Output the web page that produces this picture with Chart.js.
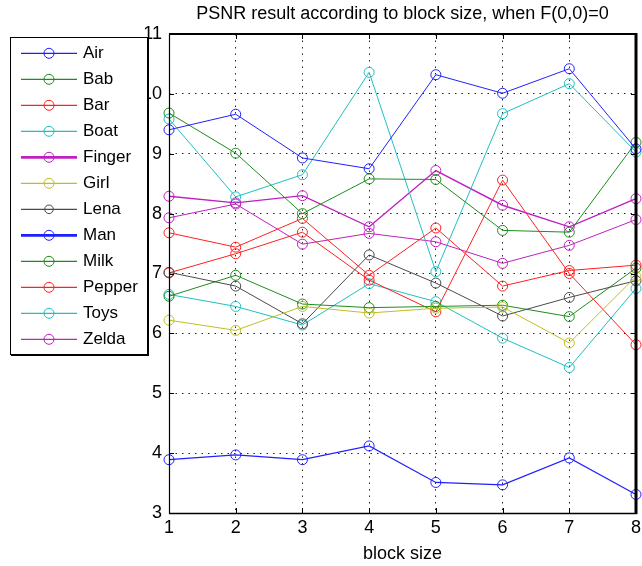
<!DOCTYPE html>
<html><head><meta charset="utf-8">
<script src="https://cdn.jsdelivr.net/npm/chart.js@4.4.0/dist/chart.umd.min.js"></script>
<style>html,body{margin:0;padding:0;background:#fff}canvas{display:block}</style>
</head><body>
<canvas id="c" width="642" height="566"></canvas>
<script>
// ---- data ----
const blockSizes = ['1','2','3','4','5','6','7','8'];
const seriesNames = ['Air','Bab','Bar','Boat','Finger','Girl','Lena','Man','Milk','Pepper','Toys','Zelda'];
const air    = [9.40, 9.66, 8.93, 8.75, 10.32, 10.01, 10.42, 9.08];
const bab    = [9.68, 9.01, 8.00, 8.58, 8.57, 7.72, 7.69, 9.19];
const bar    = [7.68, 7.44, 7.92, 6.97, 7.76, 6.79, 7.05, 7.14];
const boat   = [9.58, 8.28, 8.65, 10.36, 7.03, 9.67, 10.17, 9.03];
const finger = [8.29, 8.18, 8.30, 7.78, 8.72, 8.14, 7.78, 8.25];
const girl   = [6.22, 6.05, 6.45, 6.34, 6.42, 6.44, 5.84, 6.95];
const lena   = [7.02, 6.79, 6.16, 7.31, 6.84, 6.29, 6.60, 6.88];
const man    = [3.89, 3.97, 3.89, 4.12, 3.51, 3.47, 3.92, 3.31];
const milk   = [6.62, 6.97, 6.49, 6.43, 6.45, 6.47, 6.28, 7.09];
const pepper = [7.01, 7.33, 7.69, 6.89, 6.36, 8.56, 7.00, 5.81];
const toys   = [6.65, 6.45, 6.14, 6.83, 6.53, 5.92, 5.43, 6.75];
const zelda  = [7.93, 8.16, 7.49, 7.67, 7.53, 7.17, 7.47, 7.90];
const seriesValues = [air, bab, bar, boat, finger, girl, lena, man, milk, pepper, toys, zelda];
const yMin = 3, yMax = 11, yStep = 1;
const titleText = 'PSNR result according to block size, when F(0,0)=0';
const xTitle = 'block size';

// ---- styles ----
const BLUE='#2020ff', GREEN='#1e8c1e', RED='#ff2020', CYAN='#20bfbf', MAG='#bf20bf', YEL='#bfbf20', GRAY='#4a4a4a';
const seriesColors = [BLUE, GREEN, RED, CYAN, MAG, YEL, GRAY, BLUE, GREEN, RED, CYAN, MAG];
const lineWidths   = [1, 1, 1, 1, 1.4, 1, 1, 1.2, 1, 1, 1, 1];
const legendWidths = [1.3, 1.3, 1.3, 1.3, 2.8, 1.3, 1.3, 2.8, 1.3, 1.3, 1.3, 1.3];
const FONT = "'Liberation Sans', Arial, sans-serif";

const datasets = seriesNames.map((name, i) => ({
  label: name,
  data: seriesValues[i],
  borderColor: seriesColors[i],
  borderWidth: lineWidths[i],
  pointRadius: 5,
  pointHoverRadius: 5,
  pointBorderWidth: 1,
  pointBorderColor: seriesColors[i],
  pointBackgroundColor: 'rgba(0,0,0,0)',
  tension: 0,
  fill: false,
  clip: false
}));

const boxPlugin = {
  id: 'box',
  afterDatasetsDraw(chart) {
    const {ctx, chartArea: a, scales} = chart;
    const xs = scales.x, ys = scales.y;
    ctx.save();
    ctx.setLineDash([]);
    ctx.strokeStyle = '#000';
    ctx.lineWidth = 1;
    ctx.beginPath();
    ys.ticks.forEach((t, i) => {
      const y = Math.round(ys.getPixelForTick(i)) + 0.5;
      ctx.moveTo(a.left, y); ctx.lineTo(a.left + 5, y);
      ctx.moveTo(a.right - 5, y); ctx.lineTo(a.right, y);
    });
    xs.ticks.forEach((t, i) => {
      const x = Math.round(xs.getPixelForTick(i)) + 0.5;
      ctx.moveTo(x, a.bottom); ctx.lineTo(x, a.bottom - 5);
      ctx.moveTo(x, a.top); ctx.lineTo(x, a.top + 5);
    });
    ctx.stroke();
    // box
    ctx.lineWidth = 1.2;
    ctx.beginPath(); ctx.moveTo(a.left + 0.5, a.top); ctx.lineTo(a.left + 0.5, a.bottom + 1); ctx.stroke();
    ctx.lineWidth = 1.5;
    ctx.beginPath(); ctx.moveTo(a.left, a.bottom + 0.5); ctx.lineTo(a.right + 1, a.bottom + 0.5); ctx.stroke();
    ctx.lineWidth = 2.2;
    ctx.beginPath(); ctx.moveTo(a.left, a.top); ctx.lineTo(a.right + 1, a.top); ctx.stroke();
    ctx.lineWidth = 3;
    ctx.beginPath(); ctx.moveTo(a.right, a.top - 1); ctx.lineTo(a.right, a.bottom + 1); ctx.stroke();
    ctx.restore();
  }
};

const legendPlugin = {
  id: 'matLegend',
  afterDraw(chart) {
    const ctx = chart.ctx;
    const L = 10, T = 37, R = 148, B = 355;
    ctx.save();
    ctx.fillStyle = '#fff';
    ctx.fillRect(L, T, R - L, B - T);
    ctx.strokeStyle = '#000';
    ctx.lineWidth = 1;
    ctx.strokeRect(L + 0.5, T + 0.5, R - L - 1, B - T - 1);
    ctx.lineWidth = 2;
    ctx.beginPath(); ctx.moveTo(R, T + 1); ctx.lineTo(R, B); ctx.lineTo(L + 1, B); ctx.stroke();
    ctx.font = '17px ' + FONT;
    ctx.textBaseline = 'middle';
    chart.data.datasets.forEach((ds, i) => {
      const y = 53.3 + i * 26;
      ctx.strokeStyle = ds.borderColor;
      ctx.lineWidth = legendWidths[i];
      ctx.beginPath(); ctx.moveTo(21, y); ctx.lineTo(77, y); ctx.stroke();
      ctx.lineWidth = 1;
      ctx.beginPath(); ctx.arc(49, y, i === 6 ? 4.3 : 5, 0, Math.PI * 2); ctx.stroke();
      ctx.fillStyle = '#000';
      ctx.fillText(ds.label, 83, y);
    });
    ctx.restore();
  }
};

new Chart(document.getElementById('c'), {
  type: 'line',
  data: { labels: blockSizes, datasets },
  options: {
    responsive: false,
    animation: false,
    devicePixelRatio: 1,
    layout: { padding: { left: 0, right: 4, top: 0, bottom: 0 } },
    plugins: {
      legend: { display: false },
      tooltip: { enabled: false },
      title: {
        display: true,
        text: titleText,
        fullSize: false,
        color: '#000',
        font: { family: FONT, size: 18, weight: 'normal' },
        padding: { top: 3.4, bottom: 9 }
      }
    },
    scales: {
      x: {
        type: 'category',
        offset: false,
        grid: { display: true, color: 'rgba(0,0,0,0.85)', lineWidth: 1, drawTicks: false },
        border: { display: false, dash: [1.5, 5] },
        ticks: { color: '#000', font: { family: FONT, size: 18 }, padding: 4, maxRotation: 0, autoSkip: false },
        title: { display: true, text: xTitle, color: '#000', font: { family: FONT, size: 18 }, padding: { top: 0, bottom: 1.4 } },
        afterFit(s) { s.height = 53; s.paddingLeft = 0; s.paddingRight = 0; }
      },
      y: {
        min: yMin, max: yMax,
        grid: { display: true, color: 'rgba(0,0,0,0.85)', lineWidth: 1, drawTicks: false },
        border: { display: false, dash: [1.5, 5] },
        ticks: { stepSize: yStep, color: '#000', font: { family: FONT, size: 18 }, padding: 7 },
        afterFit(s) { s.width = 169; s.paddingTop = 0; s.paddingBottom = 0; }
      }
    }
  },
  plugins: [boxPlugin, legendPlugin]
});
</script>
</body></html>
